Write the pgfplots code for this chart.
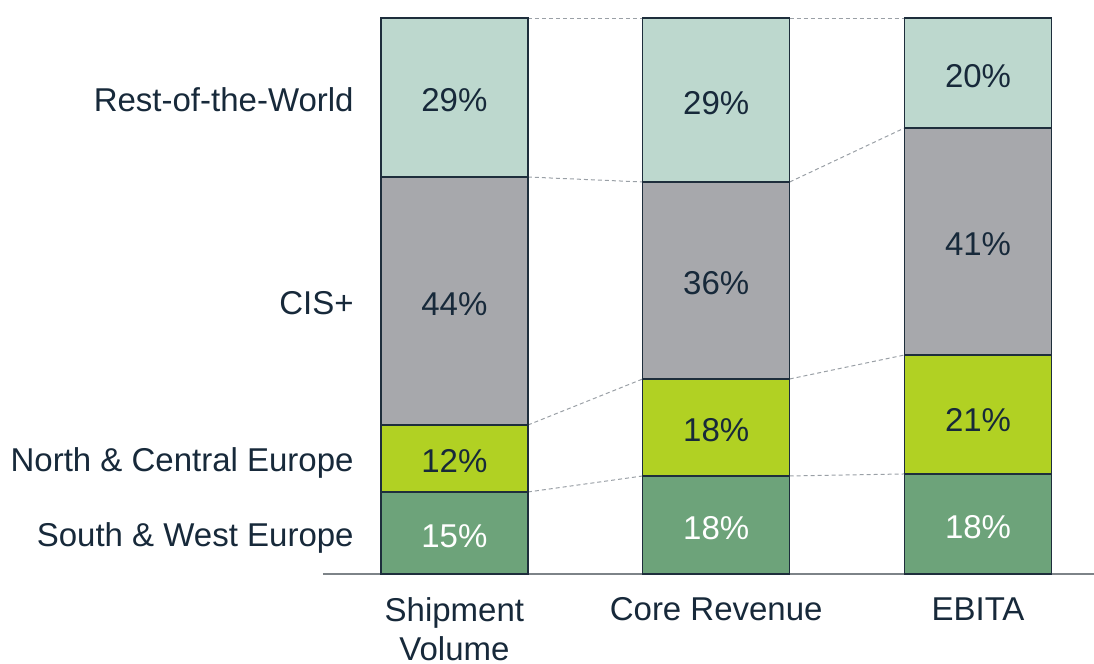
\documentclass[border=0pt]{standalone}
\usepackage{pgfplots}
\pgfplotsset{compat=1.18}
\usepackage{fontspec}
\setmainfont{Liberation Sans}
\definecolor{cRow}{HTML}{BDD8CE}
\definecolor{cCis}{HTML}{A7A8AC}
\definecolor{cNorth}{HTML}{B1D123}
\definecolor{cSouth}{HTML}{6DA37A}
\definecolor{cEdge}{HTML}{1E2E3C}
\definecolor{cText}{HTML}{17293A}
\definecolor{cAxis}{HTML}{7D8388}
\definecolor{cDash}{HTML}{9AA0A6}
\tikzset{vl/.style={font=\fontsize{16.5}{19.5}\selectfont, text=cText},
  bl/.style={vl, yshift=-1.5pt},
  conn/.style={cDash, dash pattern=on 2pt off 1.5pt, line width=0.5pt}}
\pgfplotsset{base/.style={at={(0,0)}, anchor=south west, scale only axis,
  width=385.5pt, height=287pt, xmin=-0.502, xmax=2.443, ymin=0, ymax=103.24}}
\begin{document}
\begin{tikzpicture}
\useasboundingbox (-161.5pt,-45pt) rectangle (385.5pt,287pt);
\begin{axis}[base, hide axis]
\addplot[conn] coordinates {(0.2808,100) (0.7192,100)};
\addplot[conn] coordinates {(0.2808,71.4) (0.7192,70.51)};
\addplot[conn] coordinates {(0.2808,26.8) (0.7192,35.08)};
\addplot[conn] coordinates {(0.2808,14.75) (0.7192,17.63)};
\addplot[conn] coordinates {(1.2808,100) (1.7192,100)};
\addplot[conn] coordinates {(1.2808,70.51) (1.7192,80.22)};
\addplot[conn] coordinates {(1.2808,35.08) (1.7192,39.39)};
\addplot[conn] coordinates {(1.2808,17.63) (1.7192,17.99)};
\end{axis}
\begin{axis}[base, ybar stacked, bar width=73.5pt,
  axis x line*=bottom, axis y line*=left,
  x axis line style={cAxis, line width=0.8pt},
  y axis line style={draw=none},
  major tick length=0pt,
  xtick={0,1,2},
  xticklabels={{Shipment\\Volume},{Core Revenue},{EBITA}},
  xticklabel style={vl, anchor=north, inner sep=0pt, yshift=-11.5pt, align=center},
  ytick={7.375,20.775,49.1,85.7},
  yticklabels={South \& West Europe, North \& Central Europe, CIS+, Rest-of-the-World},
  yticklabel style={vl, anchor=base east, inner sep=0pt, xshift=15.5pt, yshift=-6.75pt},
  clip=false]
\addplot[fill=cSouth, draw=cEdge, line width=0.6pt] coordinates {(0,14.75) (1,17.63) (2,17.99)};
\addplot[fill=cNorth, draw=cEdge, line width=0.6pt] coordinates {(0,12.05) (1,17.45) (2,21.40)};
\addplot[fill=cCis, draw=cEdge, line width=0.6pt] coordinates {(0,44.60) (1,35.43) (2,40.83)};
\addplot[fill=cRow, draw=cEdge, line width=0.6pt] coordinates {(0,28.60) (1,29.49) (2,19.78)};
\end{axis}
\begin{axis}[base, hide axis, clip=false]
\node[bl, text=white] at (axis cs:0,7.375) {15\%};
\node[bl] at (axis cs:0,20.775) {12\%};
\node[bl] at (axis cs:0,49.1) {44\%};
\node[bl] at (axis cs:0,85.7) {29\%};
\node[bl, text=white] at (axis cs:1,8.815) {18\%};
\node[bl] at (axis cs:1,26.355) {18\%};
\node[bl] at (axis cs:1,52.79) {36\%};
\node[bl] at (axis cs:1,85.26) {29\%};
\node[bl, text=white] at (axis cs:2,8.995) {18\%};
\node[bl] at (axis cs:2,28.2) {21\%};
\node[bl] at (axis cs:2,59.8) {41\%};
\node[bl] at (axis cs:2,90.11) {20\%};
\end{axis}
\end{tikzpicture}
\end{document}
